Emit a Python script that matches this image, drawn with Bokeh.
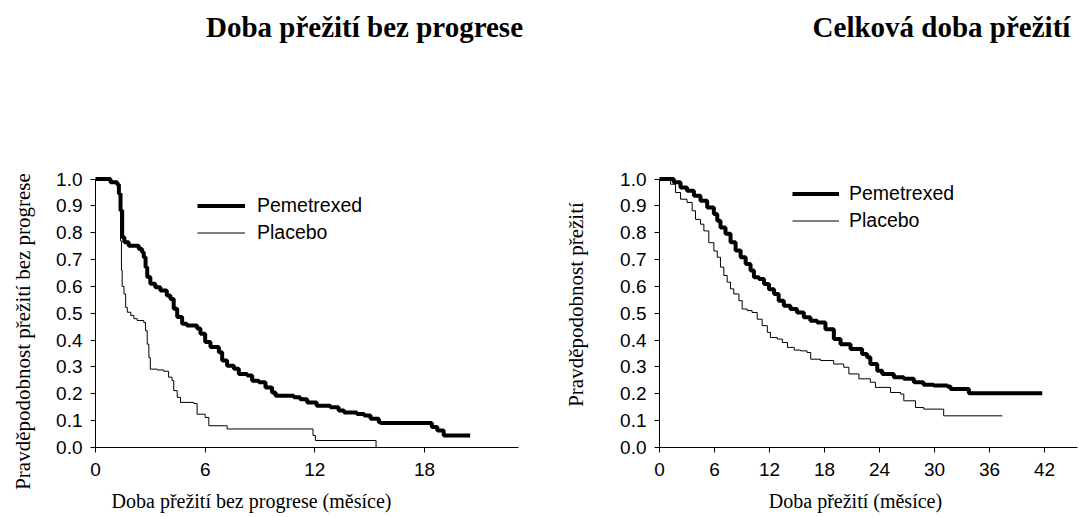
from math import pi
from bokeh.plotting import figure
from bokeh.layouts import row
from bokeh.models import (Range1d, FixedTicker, NumeralTickFormatter, Label,
                          Legend, LegendItem)
from bokeh.embed import file_html
from bokeh.resources import INLINE

# ---------------- data ----------------
panel_titles = ["Doba přežití bez progrese", "Celková doba přežití"]
x_labels = ["Doba přežití bez progrese (měsíce)", "Doba přežití (měsíce)"]
y_labels = ["Pravděpodobnost přežití bez progrese", "Pravděpodobnost přežití"]
series_names = ["Pemetrexed", "Placebo"]

pfs_pem_t = [0, 0.82, 1.19, 1.28, 1.37, 1.46, 1.58, 1.82, 2.37, 2.55,
             2.64, 2.74, 2.83, 3.0, 3.27, 3.55, 3.9, 4.1, 4.28, 4.47,
             4.74, 5.0, 5.56, 5.74, 6.0, 6.29, 6.75, 6.93, 7.2, 7.57,
             7.84, 8.3, 8.57, 8.94, 9.3, 9.66, 9.85, 10.85, 11.2, 11.58,
             12.1, 12.85, 13.3, 13.6, 14.3, 14.7, 15.05, 15.5, 15.6, 18.1,
             18.4, 18.7, 19.05, 20.5]
pfs_pem_s = [1.0, 0.988, 0.98, 0.945, 0.883, 0.783, 0.765, 0.752, 0.74, 0.727,
             0.709, 0.672, 0.635, 0.61, 0.597, 0.585, 0.566, 0.553, 0.517, 0.486,
             0.461, 0.455, 0.443, 0.424, 0.393, 0.374, 0.355, 0.324, 0.305, 0.293,
             0.274, 0.268, 0.249, 0.243, 0.224, 0.205, 0.193, 0.187, 0.18, 0.168,
             0.156, 0.15, 0.138, 0.13, 0.125, 0.119, 0.107, 0.094, 0.091, 0.091,
             0.076, 0.063, 0.045, 0.045]

pfs_pla_t = [0, 0.82, 1.19, 1.28, 1.37, 1.42, 1.46, 1.56, 1.65, 1.74,
             1.93, 2.1, 2.28, 2.64, 2.74, 2.83, 2.92, 3.0, 3.37, 3.73,
             4.0, 4.19, 4.28, 4.47, 4.65, 5.38, 5.56, 6.0, 6.2, 7.2,
             11.9, 12.03, 15.35]
pfs_pla_s = [1.0, 0.988, 0.98, 0.94, 0.77, 0.66, 0.60, 0.572, 0.522, 0.504,
             0.492, 0.48, 0.473, 0.466, 0.435, 0.385, 0.335, 0.292, 0.289, 0.284,
             0.262, 0.249, 0.212, 0.187, 0.168, 0.164, 0.124, 0.112, 0.081, 0.069,
             0.045, 0.026, 0.0]

os_pem_t = [0, 0.84, 1.56, 2.29, 3.0, 3.75, 4.47, 5.2, 5.93, 6.3,
            6.65, 7.2, 7.75, 8.3, 8.85, 9.4, 9.93, 10.3, 10.85, 11.4,
            11.94, 12.5, 13.0, 13.56, 14.28, 15.0, 15.74, 16.46, 17.2, 18.1,
            19.02, 19.75, 20.84, 22.1, 22.65, 23.0, 23.75, 24.3, 25.56, 26.65,
            27.75, 28.8, 29.9, 31.4, 31.75, 33.75, 41.75]
os_pem_s = [1.0, 1.0, 0.988, 0.969, 0.957, 0.938, 0.919, 0.894, 0.87, 0.845,
            0.82, 0.796, 0.765, 0.734, 0.709, 0.684, 0.659, 0.634, 0.628, 0.609,
            0.59, 0.572, 0.547, 0.528, 0.516, 0.503, 0.485, 0.472, 0.466, 0.441,
            0.404, 0.385, 0.367, 0.348, 0.336, 0.311, 0.286, 0.274, 0.262, 0.256,
            0.243, 0.234, 0.231, 0.227, 0.218, 0.202, 0.202]

os_pla_t = [0, 1.2, 1.75, 2.3, 3.0, 3.56, 3.93, 4.47, 4.84, 5.38,
            5.93, 6.3, 6.65, 7.02, 7.38, 7.75, 8.1, 8.66, 9.02, 9.57,
            10.1, 10.66, 11.2, 11.76, 12.1, 12.85, 13.4, 13.96, 14.7, 15.4,
            16.1, 16.5, 17.56, 19.0, 20.1, 20.66, 21.75, 23.0, 23.56, 25.2,
            26.3, 26.65, 27.93, 28.83, 31.0, 37.4]
os_pla_s = [1.0, 0.981, 0.95, 0.925, 0.913, 0.882, 0.85, 0.832, 0.807, 0.763,
            0.732, 0.709, 0.672, 0.641, 0.616, 0.591, 0.572, 0.547, 0.516, 0.51,
            0.503, 0.478, 0.454, 0.429, 0.41, 0.404, 0.391, 0.373, 0.363, 0.36,
            0.354, 0.329, 0.324, 0.311, 0.299, 0.274, 0.256, 0.243, 0.224, 0.205,
            0.199, 0.174, 0.149, 0.143, 0.118, 0.118]

pfs_xticks = [0, 6, 12, 18]
os_xticks = [0, 6, 12, 18, 24, 30, 36, 42]
y_ticks = [0.0, 0.1, 0.2, 0.3, 0.4, 0.5, 0.6, 0.7, 0.8, 0.9, 1.0]

SERIF = "Liberation Serif"
SANS = "Liberation Sans"
H = 517
Y_RANGE = (-0.2608, 1.6654)


def make_panel(width, xrange, xbound, xticks,
               pem_t, pem_s, pla_t, pla_s,
               title, title_x, xlab, xlab_x, ylab, ylab_x, ylab_y,
               leg_loc, leg_glyph_w, leg_standoff):
    p = figure(width=width, height=H, output_backend="svg",
               toolbar_location=None, x_range=Range1d(*xrange),
               y_range=Range1d(*Y_RANGE),
               min_border_left=0, min_border_right=0,
               min_border_top=0, min_border_bottom=0)
    p.outline_line_color = None
    p.grid.visible = False
    p.background_fill_color = "white"
    p.border_fill_color = "white"

    for ax in (p.xaxis[0], p.yaxis[0]):
        ax.axis_line_color = "black"
        ax.axis_line_width = 1
        ax.major_tick_line_color = "black"
        ax.major_tick_out = 5
        ax.major_tick_in = 0
        ax.minor_tick_line_color = None
        ax.major_label_text_font = SANS
        ax.major_label_text_font_size = "19px"
        ax.major_label_text_color = "black"
        ax.fixed_location = 0
    p.xaxis[0].ticker = FixedTicker(ticks=xticks)
    p.xaxis[0].bounds = (0, xbound)
    p.xaxis[0].major_label_standoff = 10
    p.yaxis[0].ticker = FixedTicker(ticks=y_ticks)
    p.yaxis[0].bounds = (0, 1.0)
    p.yaxis[0].formatter = NumeralTickFormatter(format="0.0")
    p.yaxis[0].major_label_standoff = 8

    r_pem = p.step(pem_t, pem_s, mode="after", line_color="black", line_width=4)
    r_pla = p.step(pla_t, pla_s, mode="after", line_color="black", line_width=1)

    legend = Legend(items=[LegendItem(label=series_names[0], renderers=[r_pem]),
                           LegendItem(label=series_names[1], renderers=[r_pla])],
                    location=leg_loc, glyph_width=leg_glyph_w, glyph_height=27,
                    label_height=27, spacing=0, padding=0, margin=0,
                    label_standoff=leg_standoff, label_text_font=SANS,
                    label_text_font_size="19.5px", label_text_color="black",
                    background_fill_alpha=0, border_line_alpha=0)
    p.add_layout(legend)

    p.add_layout(Label(x=title_x, y=490.5, x_units="screen", y_units="screen",
                       text=title, text_font=SERIF, text_font_style="bold",
                       text_font_size="29px", text_align="center",
                       text_baseline="alphabetic", text_color="black"))
    p.add_layout(Label(x=xlab_x, y=17, x_units="screen", y_units="screen",
                       text=xlab, text_font=SERIF, text_font_size="20px",
                       text_align="center", text_baseline="alphabetic",
                       text_color="black"))
    p.add_layout(Label(x=ylab_x, y=ylab_y, x_units="screen", y_units="screen",
                       text=ylab, text_font=SERIF, text_font_size="21px",
                       text_align="center", text_baseline="middle",
                       angle=pi / 2, text_color="black"))
    return p


p1 = make_panel(560, (-5.197, 25.44), 23.14, pfs_xticks,
                pfs_pem_t, pfs_pem_s, pfs_pla_t, pfs_pla_s,
                panel_titles[0], 364, x_labels[0], 251, y_labels[0], 22, 186,
                (197, 271.5), 48, 12)
p2 = make_panel(519, (-10.8, 45.817), 45.6, os_xticks,
                os_pem_t, os_pem_s, os_pla_t, os_pla_s,
                panel_titles[1], 381, x_labels[1], 295, y_labels[1], 15, 213,
                (232, 283), 47, 10)

layout = row(p1, p2)
open("out.html", "w").write(file_html(layout, INLINE))
